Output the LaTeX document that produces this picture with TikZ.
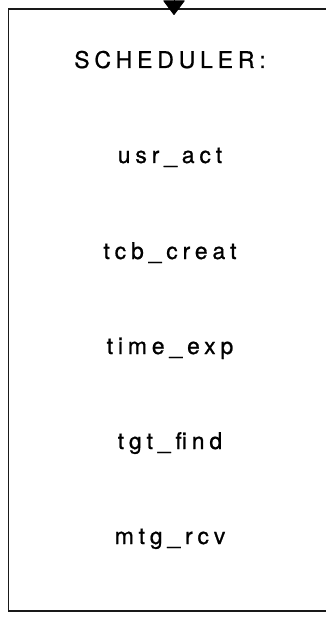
\documentclass[tikz,border=0pt]{standalone}
\usepackage{fontspec}
\setmainfont{TeX Gyre Heros}[LetterSpace=21,FakeBold=0.8]
\usetikzlibrary{arrows.meta}
\begin{document}
\begin{tikzpicture}[x=1pt,y=-1pt,
  frame/.style={line width=1.6pt,black!90},
  entry/.style={font=\fontsize{23}{27}\selectfont,anchor=base,inner sep=0pt},
  feed/.style={-{Triangle[round,width=22pt,length=15pt]},line width=1pt}]
  \useasboundingbox (0,0) rectangle (325,617);
  % scheduler frame, open towards the right
  \draw[frame] (330,9) -- (8.5,9) -- (8.5,611) -- (330,611);
  % incoming control arrow on the top edge
  \coordinate (src) at (174,0);
  \coordinate (top) at (174,15);
  \draw[feed] (src) -- (top);
  % heading and event entries
  \node[entry] (head) at (170,68) {SCHEDULER:};
  \node[entry] (usr)  at (170,163) {usr\_act};
  \node[entry] (tcb)  at (170,259) {tcb\_creat};
  \node[entry] (time) at (170,354) {time\_exp};
  \node[entry] (tgt)  at (170,449) {tgt\_find};
  \node[entry] (mtg)  at (170,544) {mtg\_rcv};
\end{tikzpicture}
\end{document}
